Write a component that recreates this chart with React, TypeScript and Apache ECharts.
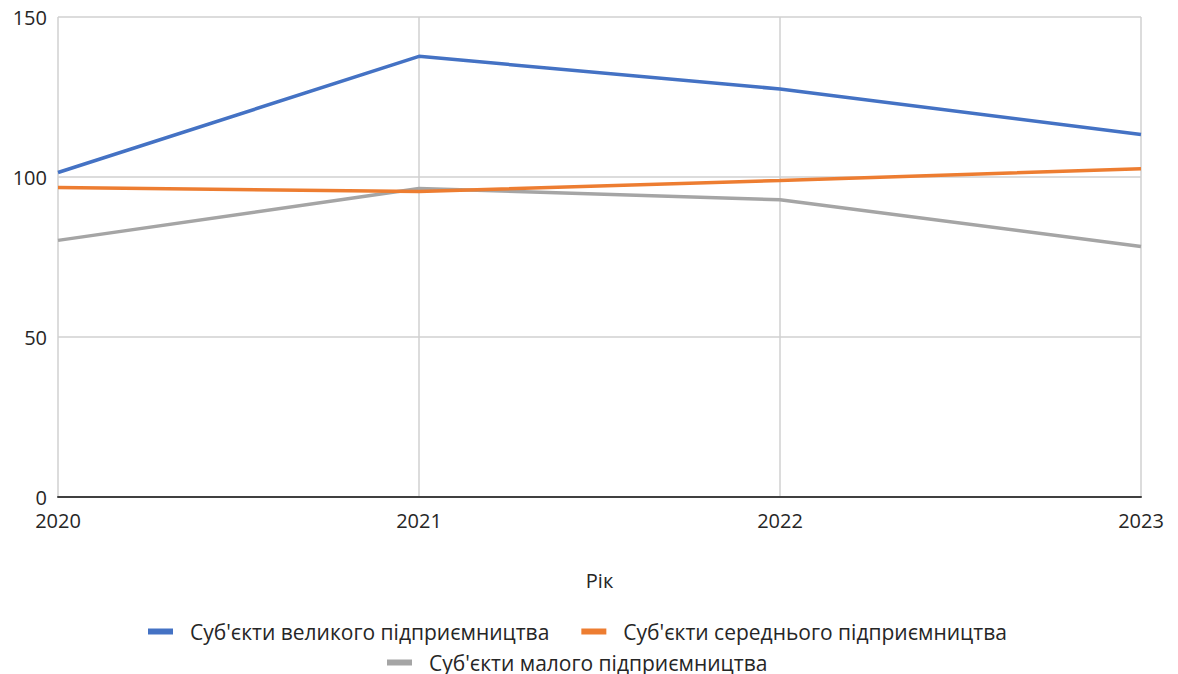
import React, { useEffect, useRef } from "react";
import * as echarts from "echarts";

const years = ["2020", "2021", "2022", "2023"];
const largeEnt = [101.4, 137.7, 127.5, 113.3];
const mediumEnt = [96.7, 95.5, 98.9, 102.6];
const smallEnt = [80.2, 96.4, 92.9, 78.3];
const seriesNames = [
  "Суб'єкти великого підприємництва",
  "Суб'єкти середнього підприємництва",
  "Суб'єкти малого підприємництва",
];
const colors = ["#4472C4", "#ED7D31", "#A5A5A5"];
const FONT = "Open Sans";

export default function App() {
  const ref = useRef<HTMLDivElement>(null);
  useEffect(() => {
    document.body.style.margin = "0";
    if (!ref.current) return;
    const chart = echarts.init(ref.current, null, { renderer: "svg" });
    const textStyle = { fontFamily: FONT, fontSize: 20, color: "#262626", lineHeight: 20 };
    const legendText = { fontFamily: FONT, fontSize: 21, color: "#262626", lineHeight: 18, padding: [0, 0, 0, 12] };
    chart.setOption({
      animation: false,
      color: colors,
      textStyle: { fontFamily: FONT },
      grid: { left: 58, right: 37, top: 17, bottom: 177, containLabel: false },
      legend: [
        {
          data: [seriesNames[0], seriesNames[1]],
          top: 616,
          left: 143,
          itemWidth: 25,
          itemHeight: 6,
          itemGap: 32,
          icon: "rect",
          textStyle: legendText,
        },
        {
          data: [seriesNames[2]],
          top: 647,
          left: 382,
          itemWidth: 25,
          itemHeight: 6,
          icon: "rect",
          textStyle: legendText,
        },
      ],
      xAxis: {
        type: "category",
        data: years,
        boundaryGap: false,
        name: "Рік",
        nameLocation: "middle",
        nameGap: 73,
        nameTextStyle: textStyle,
        axisLine: { lineStyle: { color: "#404040", width: 2 } },
        axisTick: { show: false },
        axisLabel: { ...textStyle, margin: 13 },
        splitLine: { show: true, lineStyle: { color: "#D0D0D0", width: 1.5 } },
      },
      yAxis: {
        type: "value",
        min: 0,
        max: 150,
        interval: 50,
        axisLine: { show: false },
        axisTick: { show: false },
        axisLabel: { ...textStyle, lineHeight: 16, margin: 11 },
        splitLine: { lineStyle: { color: "#D0D0D0", width: 1.5 } },
      },
      series: [largeEnt, mediumEnt, smallEnt].map((d, i) => ({
        name: seriesNames[i],
        type: "line",
        data: d,
        symbol: "none",
        lineStyle: { width: 3.5, color: colors[i] },
        z: 3 - i,
      })),
    });
    return () => chart.dispose();
  }, []);
  return <div ref={ref} style={{ width: 1178, height: 674 }} />;
}
